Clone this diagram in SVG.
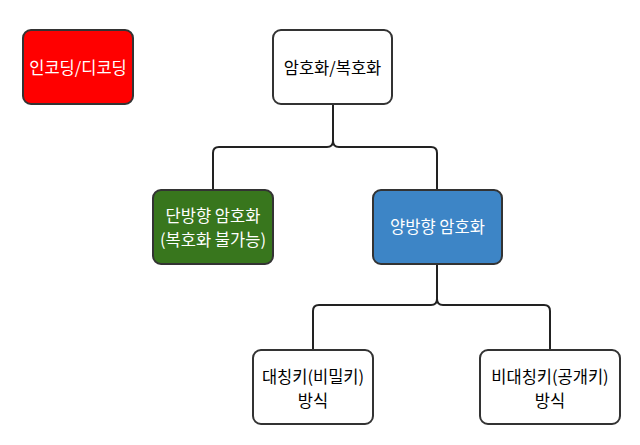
<svg xmlns="http://www.w3.org/2000/svg" width="640" height="445" viewBox="0 0 640 445">
<style>
.box{stroke:#333333;stroke-width:2}
.t{font-family:"Noto Sans CJK KR","Noto Sans",sans-serif;font-size:16.5px;text-anchor:middle;dominant-baseline:central}
.w{fill:#ffffff}
.k{fill:#000000}
.c{fill:none;stroke:#222222;stroke-width:2}
</style>
<rect width="640" height="445" fill="#ffffff"/>
<g id="connectors">
<path class="c" d="M333,104 V141 Q333,147 327,147 H219 Q213,147 213,153 V190"/>
<path class="c" d="M333,104 V141 Q333,147 339,147 H431 Q437,147 437,153 V190"/>
<path class="c" d="M437,264 V299 Q437,305 431,305 H319 Q313,305 313,311 V350"/>
<path class="c" d="M437,264 V299 Q437,305 443,305 H544 Q550,305 550,311 V350"/>
</g>
<g id="encoding">
<rect class="box" x="23" y="30" width="110" height="74" rx="8" fill="#ff0000"/>
<text class="t w" x="78" y="67">인코딩/디코딩</text>
</g>
<g id="crypto">
<rect class="box" x="273" y="30" width="119" height="74" rx="8" fill="#ffffff"/>
<text class="t k" x="332.5" y="67">암호화/복호화</text>
</g>
<g id="oneway">
<rect class="box" x="153" y="190" width="120" height="74" rx="8" fill="#38761d"/>
<text class="t w" x="213" y="215">단방향 암호화</text>
<text class="t w" x="213" y="239">(복호화 불가능)</text>
</g>
<g id="twoway">
<rect class="box" x="373" y="190" width="129" height="74" rx="8" fill="#3d85c6"/>
<text class="t w" x="437.5" y="226">양방향 암호화</text>
</g>
<g id="symmetric">
<rect class="box" x="253" y="350" width="120" height="74" rx="8" fill="#ffffff"/>
<text class="t k" x="313" y="376">대칭키(비밀키)</text>
<text class="t k" x="313" y="400">방식</text>
</g>
<g id="asymmetric">
<rect class="box" x="480" y="350" width="140" height="74" rx="8" fill="#ffffff"/>
<text class="t k" x="550" y="376">비대칭키(공개키)</text>
<text class="t k" x="550" y="400">방식</text>
</g>
</svg>
